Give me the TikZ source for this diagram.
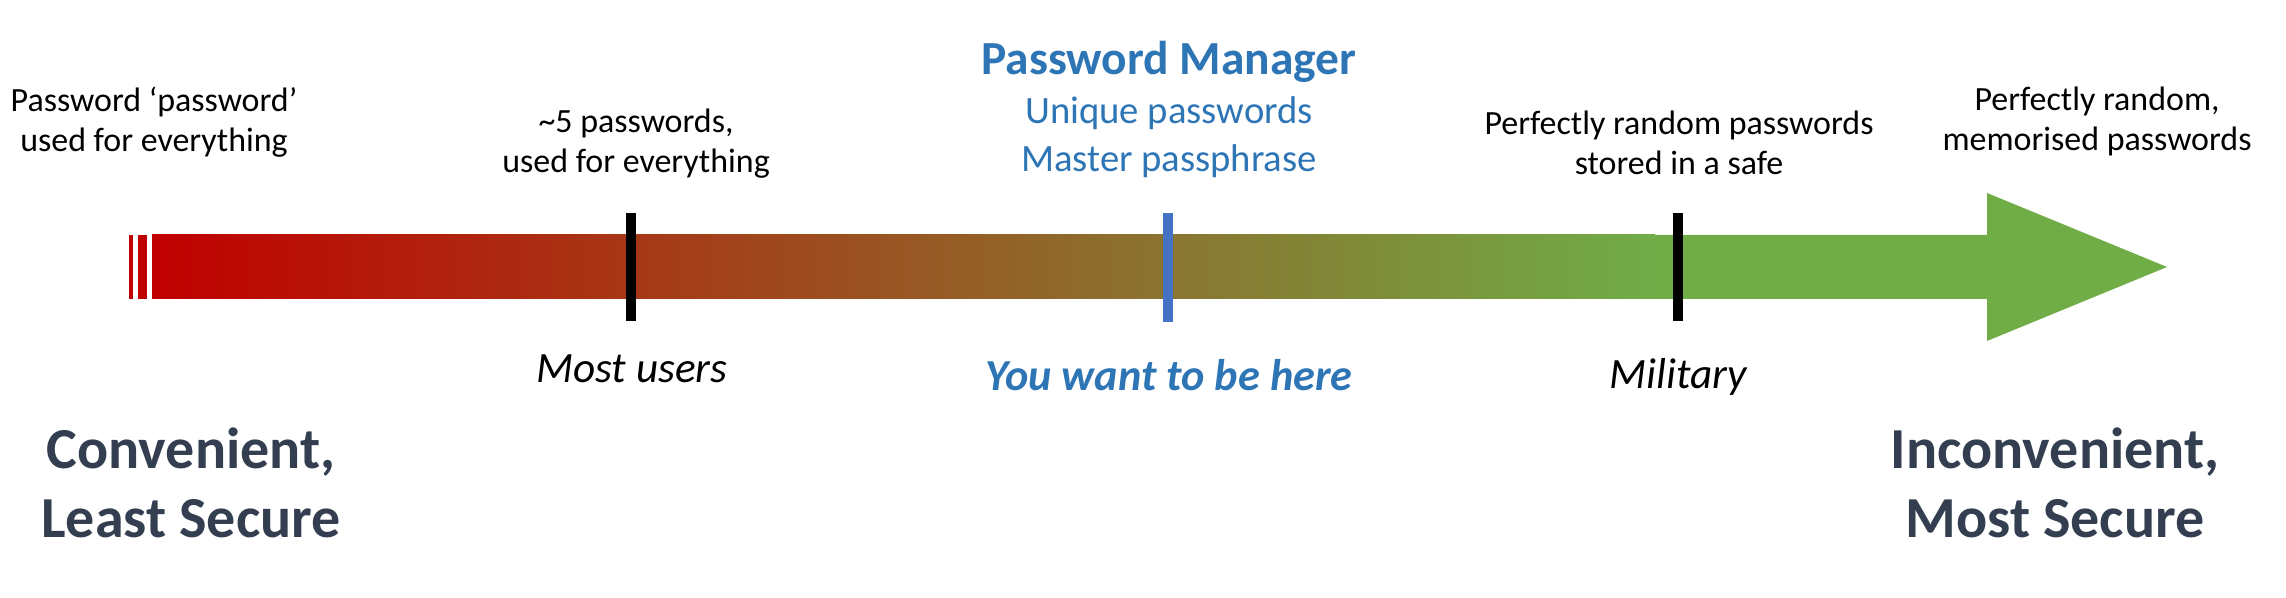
\documentclass[tikz,border=0pt]{standalone}
\usepackage{fontspec}
\setmainfont{Carlito}
\definecolor{barred}{HTML}{C00000}
\definecolor{bargreen}{HTML}{70AD47}
\definecolor{pmblue}{HTML}{2E75B6}
\definecolor{tickblue}{HTML}{4472C4}
\definecolor{endnavy}{HTML}{333F50}
\tikzset{
  small/.style={align=center,anchor=base,font=\fontsize{9.65}{11.4}\selectfont},
  who/.style={anchor=base,font=\fontsize{12.3}{14}\selectfont\itshape},
  extreme/.style={align=center,anchor=base,text=endnavy,font=\fontsize{16.5}{19.9}\selectfont\bfseries},
  marker/.style={line width=3pt},
}
\begin{document}
\begin{tikzpicture}[x=0.01cm,y=-0.01cm]
\useasboundingbox (0,0) rectangle (2286,598);
\coordinate (most top) at (631,213);
\coordinate (most bot) at (631,321);
\coordinate (pm top) at (1168,213);
\coordinate (pm bot) at (1168,322);
\coordinate (mil top) at (1678,213);
\coordinate (mil bot) at (1678,321);
% the scale
\fill[barred] (129,235) rectangle (133,299);
\fill[barred] (138,235) rectangle (147,299);
\shade[left color=barred,right color=bargreen] (152,235) rectangle (1655,299);
\fill[bargreen] (1653,235) -- (1987,235) -- (1987,193) -- (2167,267)
  -- (1987,341) -- (1987,299) -- (1653,299) -- cycle;
\draw[marker] (most top) -- (most bot);
\draw[marker,tickblue] (pm top) -- (pm bot);
\draw[marker] (mil top) -- (mil bot);
% above (base = last line)
\node[small] (pwd) at (154,152) {Password ‘password’\\used for everything};
\node[small] (five) at (636,173) {\textasciitilde5 passwords,\\used for everything};
\node[anchor=base,text=pmblue,font=\fontsize{13.5}{16}\selectfont\bfseries] (pmtitle) at (1169,75) {Password Manager};
\node[small,text=pmblue,font=\fontsize{11}{13.9}\selectfont] (pmsub) at (1169,172) {Unique passwords\\Master passphrase};
\node[small] (safe) at (1679,175) {Perfectly random passwords\\stored in a safe};
\node[small] (memo) at (2097,151) {Perfectly random,\\memorised passwords};
% below
\node[who] (mostlbl) at (632,383) {Most users};
\node[who,text=pmblue,font=\fontsize{12.6}{15}\selectfont\bfseries\itshape] (herelbl) at (1169,391) {You want to be here};
\node[who] (millbl) at (1678,389) {Military};
\node[extreme] (conv) at (191,538) {Convenient,\\Least Secure};
\node[extreme] (inconv) at (2055,538) {Inconvenient,\\Most Secure};
\end{tikzpicture}
\end{document}
